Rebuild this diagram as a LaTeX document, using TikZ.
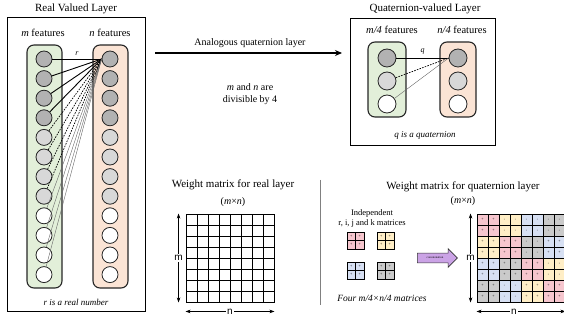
\documentclass[tikz,border=0pt]{standalone}
\usepackage{fontspec}
\setmainfont{Liberation Serif}
\newfontfamily\labelfont{Liberation Sans}
\usepackage{tikz}
\usetikzlibrary{shapes,arrows,arrows.meta,positioning,calc}

\definecolor{realgreen}{RGB}{226,239,217}
\definecolor{realorange}{RGB}{251,228,213}
\definecolor{darkdot}{RGB}{178,178,178}
\definecolor{lightdot}{RGB}{216,216,216}
\definecolor{rcol}{RGB}{246,198,206}
\definecolor{icol}{RGB}{255,238,198}
\definecolor{jcol}{RGB}{215,224,243}
\definecolor{kcol}{RGB}{202,202,202}
\definecolor{concatcol}{RGB}{203,163,230}

\begin{document}
\begin{tikzpicture}[x=1pt, y=-1pt, >={Stealth[length=5pt, width=3.5pt]},
    neuron/.style={circle, draw=black!85, line width=0.8pt, inner sep=0pt},
    layerbar/.style={rectangle, draw=black!85, line width=1.1pt, rounded corners=7pt},
    panel/.style={rectangle, draw, line width=0.8pt},
    cell/.style={rectangle, draw, line width=0.9pt, minimum size=11pt, inner sep=0pt, font=\fontsize{4}{4}\selectfont},
    smallcell/.style={cell, minimum size=8.5pt},
    heading/.style={font=\fontsize{11}{13}\selectfont},
    feat/.style={font=\fontsize{10.5}{12}\selectfont},
    note/.style={font=\fontsize{9}{11}\selectfont\itshape},
    dimlabel/.style={fill=white, inner sep=1pt, font=\labelfont\fontsize{10}{10}\selectfont}]
    \useasboundingbox (0,0) rectangle (564,320);

    % Real valued layer
    \node[heading] (realtitle) at (76,9) {Real Valued Layer};
    \node[panel, minimum width=138pt, minimum height=294pt] (realbox) at (76,164) {};
    \node[feat] (mfeat) at (43,33) {\textit{m} features};
    \node[feat] (nfeat) at (110,33) {\textit{n} features};
    \node[layerbar, fill=realgreen, minimum width=35pt, minimum height=243pt] (mbar) at (44.5,166.5) {};
    \node[layerbar, fill=realorange, minimum width=35pt, minimum height=243pt] (nbar) at (110.5,166.5) {};
    \foreach \i/\f in {1/darkdot,2/darkdot,3/darkdot,4/darkdot,5/lightdot,6/lightdot,
                       7/lightdot,8/lightdot,9/white,10/white,11/white,12/white} {
        \node[neuron, fill=\f, minimum size=16pt] (m\i) at (44,39.4+19.6*\i) {};
        \node[neuron, fill=\f, minimum size=16pt] (n\i) at (110,39.4+19.6*\i) {};
    }
    \node[note] (rnote) at (76,302) {r is a real number};

    % Weights into the first output feature
    \draw[line width=0.9pt] (m1) -- node[above, note, font=\fontsize{8}{8}\selectfont\itshape] {r} (n1.west);
    \foreach \i in {2,...,4}
        \draw[line width=0.9pt] (m\i) -- (n1.west);
    \foreach \i in {5,...,8}
        \draw[line width=0.7pt, dash pattern=on 1.6pt off 1.2pt] (m\i) -- (n1.west);
    \foreach \i in {9,...,12}
        \draw[line width=0.4pt, black!60] (m\i) -- (n1.west);

    % Arrow to the quaternion layer
    \coordinate (arrowfrom) at (155,53);
    \coordinate (arrowto) at (342,53);
    \draw[-{Stealth[length=7pt, width=6pt]}, line width=1.2pt] (arrowfrom) -- (arrowto);
    \node[font=\fontsize{10}{12}\selectfont] (analog) at (250,43) {Analogous quaternion layer};
    \node[font=\fontsize{10}{12}\selectfont, align=center] (divnote) at (250,94)
        {\textit{m} and \textit{n} are\\divisible by 4};

    % Quaternion-valued layer
    \node[heading] (quattitle) at (425,9) {Quaternion-valued Layer};
    \node[panel, minimum width=145pt, minimum height=127pt] (quatbox) at (422.5,81.5) {};
    \node[feat] (qmfeat) at (392,30) {\textit{m/4} features};
    \node[feat] (qnfeat) at (462,30) {\textit{n/4} features};
    \node[layerbar, fill=realgreen, minimum width=38pt, minimum height=75pt] (qmbar) at (387,79.5) {};
    \node[layerbar, fill=realorange, minimum width=36pt, minimum height=75pt] (qnbar) at (458,79.5) {};
    \foreach \i/\f in {1/darkdot,2/lightdot,3/white} {
        \node[neuron, fill=\f, minimum size=18pt] (qm\i) at (387,35+23*\i) {};
        \node[neuron, fill=\f, minimum size=18pt] (qn\i) at (458,35+23*\i) {};
    }
    \draw[line width=0.9pt] (qm1) -- node[above, font=\fontsize{8}{8}\selectfont\itshape] {q} (qn1.west);
    \draw[line width=0.7pt, dash pattern=on 1.6pt off 1.2pt] (qm2) -- (qn1.west);
    \draw[line width=0.4pt, black!60] (qm3) -- (qn1.west);
    \node[note] (qnote) at (425,135) {q is a quaternion};

    % Weight matrix for the real layer
    \node[heading] (rwtitle) at (233,185) {Weight matrix for real layer};
    \node[font=\fontsize{10}{12}\selectfont] (rwsize) at (233,202) {(\textit{m}×\textit{n})};
    \foreach \a in {0,...,7}
        \foreach \b in {0,...,7}
            \node[cell, fill=white] (rw-\a-\b) at (191.5+11*\b, 219.5+11*\a) {};
    \draw[<->] ([xshift=-7pt]rw-0-0.north west) -- node[dimlabel] {m} ([xshift=-7pt]rw-7-0.south west);
    \draw[<->] ([yshift=-9pt]rw-7-0.south west) -- node[dimlabel] {n} ([yshift=-9pt]rw-7-7.south east);

    % Divider
    \draw[black!50, line width=1pt] (320,180) -- (320,305);

    % Weight matrix for the quaternion layer
    \node[heading] (qwtitle) at (463,187) {Weight matrix for quaternion layer};
    \node[font=\fontsize{10}{12}\selectfont] (qwsize) at (463,201) {(\textit{m}×\textit{n})};
    \node[font=\fontsize{8.5}{10}\selectfont, align=center] (indep) at (372,218)
        {Independent\\r, i, j and k matrices};
    \foreach \name/\col/\x/\y in {r/rcol/347/232, i/icol/377/232, j/jcol/347/262, k/kcol/377/262}
        \foreach \a in {0,1}
            \foreach \b in {0,1}
                \node[smallcell, fill=\col] (\name-\a-\b) at (\x+4.25+8.5*\b, \y+4.25+8.5*\a) {+};
    \node[note, font=\fontsize{9.5}{11}\selectfont\itshape] (fournote) at (382,298) {Four m/4×n/4 matrices};

    \node[single arrow, draw=black!80, fill=concatcol, line width=0.6pt, minimum height=40pt,
          single arrow head extend=4.5pt, inner xsep=1pt, inner ysep=3.5pt,
          font=\fontsize{3}{3}\selectfont] (concat) at (435,258) {concatenation};

    \foreach \br/\bc/\col/\sgn in {0/0/rcol/+, 0/1/icol/-, 0/2/jcol/-, 0/3/kcol/-,
                                   1/0/icol/+, 1/1/rcol/+, 1/2/kcol/-, 1/3/jcol/+,
                                   2/0/jcol/+, 2/1/kcol/+, 2/2/rcol/+, 2/3/icol/-,
                                   3/0/kcol/+, 3/1/jcol/-, 3/2/icol/+, 3/3/rcol/+}
        \foreach \a in {0,1}
            \foreach \b in {0,1} {
                \pgfmathtruncatemacro{\qa}{2*\br+\a}
                \pgfmathtruncatemacro{\qb}{2*\bc+\b}
                \node[cell, fill=\col] (qw-\qa-\qb) at (482.5+11*\qb, 219.5+11*\qa) {\sgn};
            }
    \draw[<->] ([xshift=-6pt]qw-0-0.north west) -- node[dimlabel] {m} ([xshift=-6pt]qw-7-0.south west);
    \draw[<->] ([yshift=-9pt]qw-7-0.south west) -- node[dimlabel, pos=0.42] {n} ([yshift=-9pt]qw-7-7.south east);
\end{tikzpicture}
\end{document}
